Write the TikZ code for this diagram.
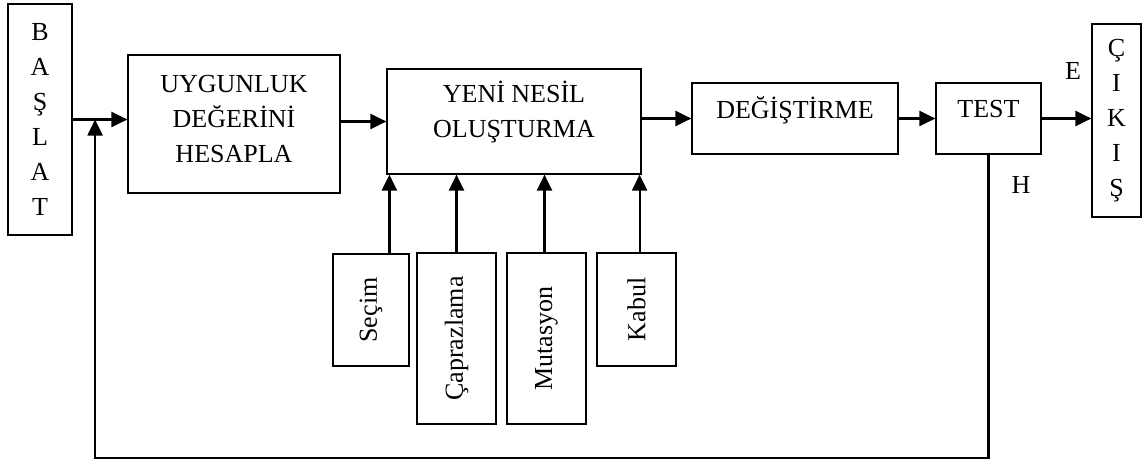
\documentclass[tikz,border=0pt]{standalone}
\usepackage{fontspec}
\setmainfont{Liberation Serif}
\usepackage{graphicx}
\usetikzlibrary{shapes,arrows.meta,calc,positioning}

\begin{document}
\begin{tikzpicture}[x=0.5pt, y=-0.5pt,
  block/.style={rectangle, draw, line width=0.6pt, align=center, inner sep=2pt, font=\fontsize{13}{17.5}\selectfont},
  opbox/.style={block, minimum width=39.5pt},
  arrow/.style={-{Triangle[length=8pt,width=7.5pt]}, line width=1.1pt},
  lbl/.style={font=\fontsize{13}{15}\selectfont}
]
\useasboundingbox (0,0) rectangle (1142,461);

\node[block, minimum width=32pt, minimum height=115.5pt] (baslat) at (40,119.5) {B\\A\\Ş\\L\\A\\T};
\node[block, minimum width=106pt, minimum height=69pt, text depth=5pt] (uygunluk) at (234,124) {UYGUNLUK\\DEĞERİNİ\\HESAPLA};
\node[block, minimum width=127pt, minimum height=52.5pt, text depth=12pt] (yeni) at (514,121.5) {YENİ NESİL\\OLUŞTURMA};
\node[block, minimum width=103pt, minimum height=35.5pt, text depth=11pt] (degis) at (795,118.5) {DEĞİŞTİRME};
\node[block, minimum width=52.5pt, minimum height=35.5pt, text depth=10pt] (test) at (988.5,118.5) {TEST};
\node[block, minimum width=24.5pt, minimum height=96.5pt] (cikis) at (1116.5,120.5) {Ç\\I\\K\\I\\Ş};

% operatorler
\node[opbox, minimum width=38pt, minimum height=56pt] (secim) at (371,310) {\rotatebox{90}{Seçim}};
\node[opbox, minimum height=85.5pt] (capraz) at (456.5,338.5) {\rotatebox{90}{Çaprazlama}};
\node[opbox, minimum height=85.5pt] (mutasyon) at (546.5,338.5) {\rotatebox{90}{Mutasyon}};
\node[opbox, minimum height=56.5pt] (kabul) at (636.5,309.5) {\rotatebox{90}{Kabul}};

\node[lbl] (evet) at (1073,71) {E};
\node[lbl] (hayir) at (1021,185) {H};

\coordinate (joint) at ($(baslat.east)!0.41!(baslat.east -| uygunluk.west)$);
\coordinate (bottom) at (0,458);

\draw[arrow] (baslat.east) -- (baslat.east -| uygunluk.west);
\draw[arrow] (yeni.west -| uygunluk.east) -- (yeni.west);
\draw[arrow] (degis.west -| yeni.east) -- (degis.west);
\draw[arrow] (degis) -- (test);
\draw[arrow] (test.east) -- (test.east -| cikis.west);

\draw[arrow] ([xshift=1.5pt]secim.north -| yeni.south west) -- ([xshift=1.5pt]yeni.south west);
\draw[arrow] (capraz.north) -- (capraz.north |- yeni.south);
\draw[arrow] ([xshift=-1pt]mutasyon.north) -- ([xshift=-1pt]mutasyon.north |- yeni.south);
\draw[arrow] ([xshift=-1pt]kabul.north -| yeni.south east) -- ([xshift=-1pt]yeni.south east);

% geri besleme
\draw[arrow] (test.south) |- (bottom -| joint) -- (joint);

\end{tikzpicture}
\end{document}
